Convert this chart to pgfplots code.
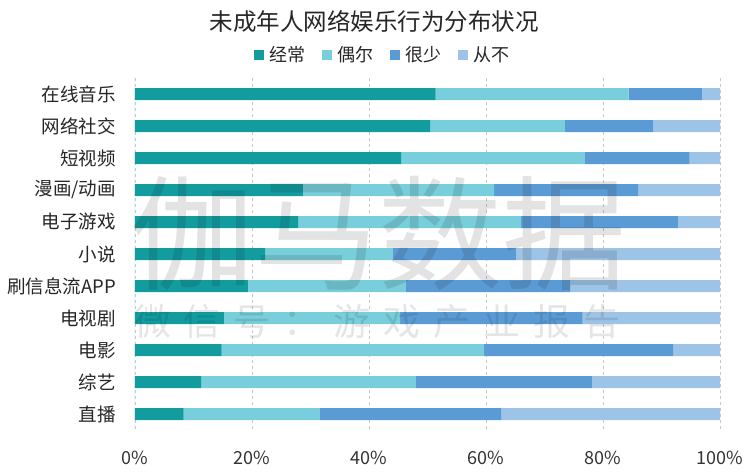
\documentclass[border=0pt]{standalone}
\usepackage{fontspec}
\setmainfont{Noto Sans CJK SC}
\usepackage{pgfplots}
\usepackage{pgfplotstable}
\pgfplotsset{compat=1.18}
\definecolor{cA}{HTML}{129C9E}
\definecolor{cB}{HTML}{78CEDA}
\definecolor{cC}{HTML}{5B9BD5}
\definecolor{cD}{HTML}{9DC3E6}
\definecolor{axisc}{HTML}{5EB9B5}
\definecolor{gridc}{HTML}{C8C8C8}
\pgfplotstableread{
y a b c d
0 51.4 33.0 12.5 3.1
1 50.5 23.0 15.1 11.4
2 45.5 31.3 18.0 5.2
3 28.7 32.7 24.6 14.0
4 27.9 38.1 26.9 7.1
5 22.3 21.8 21.0 34.9
6 19.3 26.9 28.2 25.6
7 15.2 30.1 31.2 23.5
8 14.8 44.9 32.3 8.0
9 11.3 36.7 30.1 21.9
10 8.3 23.2 31.1 37.4
}\datatable
\begin{document}
\begin{tikzpicture}
\begin{axis}[
  at={(0,0)}, anchor=south west,
  scale only axis, width=585bp, height=352bp,
  xbar stacked, bar width=12bp,
  xmin=0, xmax=100, ymin=-0.5, ymax=10.5, y dir=reverse,
  ytick={0,...,10},
  yticklabels={在线音乐,网络社交,短视频,漫画/动画,电子游戏,小说,刷信息流APP,电视剧,电影,综艺,直播},
  xtick={0,20,...,100},
  xticklabel={\pgfmathprintnumber{\tick}\%},
  /pgf/number format/assume math mode=true,
  major tick length=0pt,
  axis line style={draw=none},
  xmajorgrids,
  major grid style={gridc, line width=0.6pt, dash pattern=on 3bp off 3bp},
  xticklabel style={font=\fontsize{18bp}{20bp}\selectfont, text=black!80, anchor=center, yshift=-28bp},
  yticklabel style={font=\fontsize{18.5bp}{20bp}\selectfont, text=black!85, anchor=east, inner sep=0pt, xshift=-19bp},
  legend columns=4,
  legend style={at={(0.422,1.065)}, anchor=center, draw=none, fill=none,
    font=\fontsize{18bp}{20bp}\selectfont, text=black!85,
    nodes={inner sep=0pt},
    /tikz/every even column/.append style={column sep=17bp},
    /tikz/every odd column/.append style={column sep=5bp}},
  legend image code/.code={\fill[#1] (0bp,-5bp) rectangle (10bp,5bp);},
]
\addplot[fill=cA, draw=none] table[x=a, y=y] {\datatable};
\addplot[fill=cB, draw=none] table[x=b, y=y] {\datatable};
\addplot[fill=cC, draw=none] table[x=c, y=y] {\datatable};
\addplot[fill=cD, draw=none] table[x=d, y=y] {\datatable};
\legend{经常,偶尔,很少,从不}
\draw[axisc, line width=1pt] (rel axis cs:0,0) -- (rel axis cs:0,1);
\end{axis}
\node[font=\fontsize{23.5bp}{26bp}\selectfont, text=black!85, inner sep=0pt] at (239bp,408bp) {未成年人网络娱乐行为分布状况};
\node[font=\fontsize{124bp}{130bp}\selectfont, text=black, text opacity=0.11, inner sep=0pt] at (243bp,196bp) {伽马数据};
\node[font=\fontsize{37bp}{40bp}\selectfont, text=black, text opacity=0.10, inner sep=0pt] at (242.5bp,108bp) {微\hspace{13bp}信\hspace{13bp}号\hspace{13bp}：\hspace{13bp}游\hspace{13bp}戏\hspace{13bp}产\hspace{13bp}业\hspace{13bp}报\hspace{13bp}告};
\pgfresetboundingbox
\path[use as bounding box] (-135bp,-46bp) rectangle (615bp,430bp);
\end{tikzpicture}
\end{document}
